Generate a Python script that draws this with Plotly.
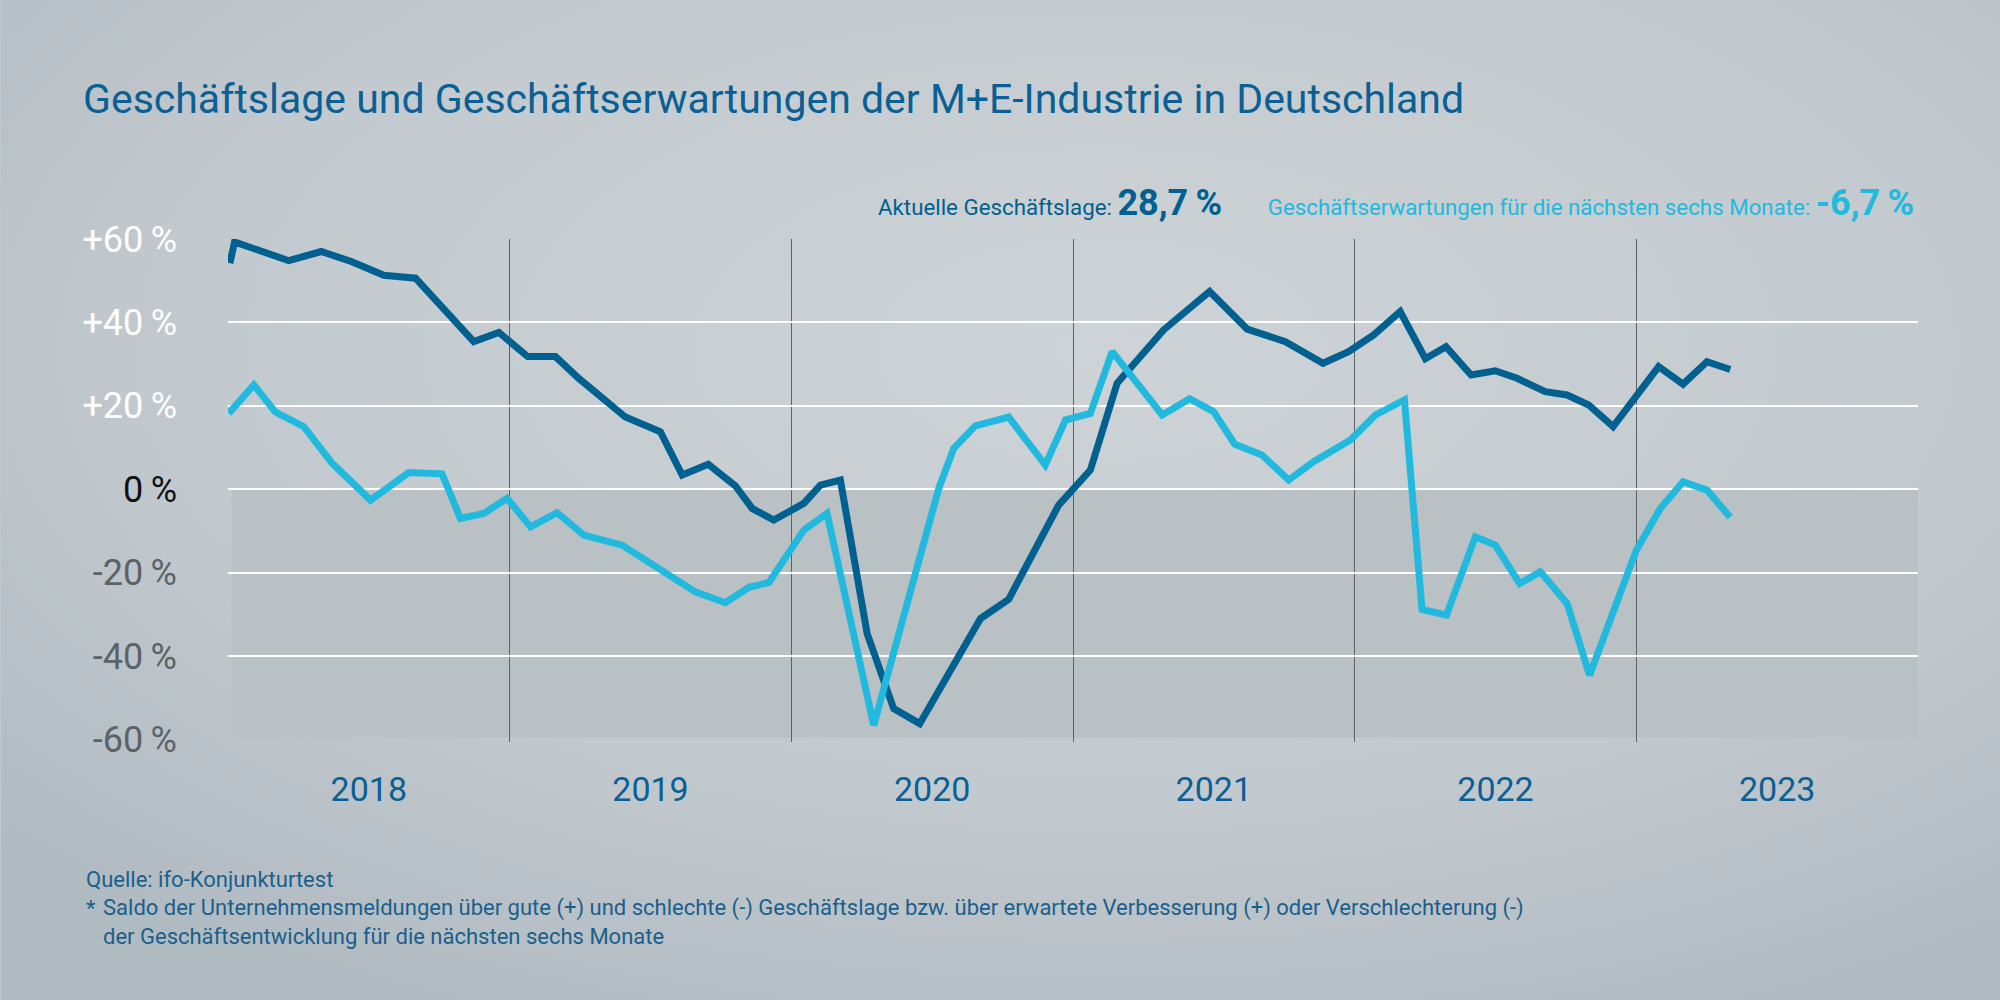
import base64
import plotly.graph_objects as go

# months since Jan 2018 and balance values in %
dark_month = [0.08, 0.28, 2.59, 3.97, 5.25, 6.64, 7.99, 10.47, 11.54, 12.77, 13.95, 14.94,
              16.93, 18.42, 19.35, 20.46, 21.62, 22.33, 23.25, 24.53, 25.24, 26.09, 27.23,
              28.36, 29.47, 32.06, 33.26, 35.39, 36.74, 37.88, 39.86, 41.82, 43.42, 45.05,
              46.65, 47.74, 48.81, 49.94, 51.01, 51.89, 52.96, 53.99, 54.92, 56.12, 57.05,
              57.97, 59.01, 60.95, 61.99, 63.01, 64.00]
dark_val = [54.2, 59.3, 54.8, 57.0, 54.6, 51.3, 50.6, 35.4, 37.6, 31.8, 31.8, 26.6,
            17.3, 13.8, 3.4, 6.0, 0.8, -4.6, -7.4, -3.4, 1.0, 2.2, -34.6,
            -52.6, -56.2, -31.0, -26.4, -3.8, 4.6, 25.4, 38.2, 47.4, 38.4, 35.4,
            30.2, 33.0, 37.0, 42.6, 31.3, 34.2, 27.4, 28.4, 26.6, 23.4, 22.6,
            20.2, 15.0, 29.4, 25.2, 30.6, 28.7]

light_month = [0.03, 1.10, 2.02, 3.23, 4.44, 6.07, 7.70, 9.12, 9.90, 10.90, 11.89, 12.89,
               14.02, 15.16, 16.79, 19.91, 21.19, 22.19, 23.04, 24.53, 25.52, 27.51, 30.28,
               30.92, 31.84, 33.26, 34.82, 35.68, 36.74, 37.67, 39.80, 40.97, 41.99, 42.89,
               44.05, 45.19, 46.25, 47.82, 48.88, 50.12, 50.87, 51.91, 53.14, 53.99, 55.03,
               55.91, 57.05, 58.01, 60.00, 61.02, 61.99, 63.01, 64.00]
light_val = [18.2, 25.0, 18.5, 15.0, 6.2, -2.6, 4.0, 3.7, -7.0, -5.8, -2.2, -9.0,
             -5.6, -11.0, -13.4, -24.6, -27.2, -23.5, -22.4, -9.8, -5.8, -56.6, 0.2,
             9.8, 15.2, 17.3, 5.8, 16.6, 18.2, 33.0, 17.8, 21.7, 18.6, 10.8,
             8.2, 2.2, 6.6, 11.8, 17.8, 21.4, -28.8, -30.2, -11.4, -13.4, -22.6,
             -19.8, -27.4, -44.6, -14.6, -4.6, 1.8, -0.2, -6.7]

years = ["2018", "2019", "2020", "2021", "2022", "2023"]
year_mid = [6, 18, 30, 42, 54, 66]
year_bounds = [12, 24, 36, 48, 60]

y_ticks = [60, 40, 20, 0, -20, -40, -60]
y_labels = ["+60\u2009%", "+40\u2009%", "+20\u2009%", "0\u2009%", "-20\u2009%", "-40\u2009%", "-60\u2009%"]

DARK = "#00608f"
LIGHT = "#22b9df"
FONT = "Roboto"

# plot area in pixels
L, R, T, B = 227.5, 1917.7, 239.3, 742.0
W, H = 2000, 1000


def px(x):
    return (x - L) / (R - L)


def py(y):
    return (B - y) / (B - T)


def tick_color(v):
    if v > 0:
        return "#ffffff"
    if v == 0:
        return "#111111"
    return "#5b6367"


ticktext = ['<span style="color:%s">%s</span>' % (tick_color(v), t) for v, t in zip(y_ticks, y_labels)]

# soft background gradient
svg = ('<svg xmlns="http://www.w3.org/2000/svg" width="2000" height="1000">'
       '<defs><radialGradient id="g" cx="0.55" cy="0.35" r="0.75">'
       '<stop offset="0" stop-color="#cdd3d6"/><stop offset="0.6" stop-color="#c3cacf"/>'
       '<stop offset="1" stop-color="#b0bac1"/></radialGradient></defs>'
       '<rect width="2000" height="1000" fill="url(#g)"/></svg>')
bg_src = "data:image/svg+xml;base64," + base64.b64encode(svg.encode()).decode()

fig = go.Figure()

fig.add_trace(go.Scatter(x=dark_month, y=dark_val, mode="lines",
                         line=dict(color=DARK, width=7), name="Aktuelle Geschäftslage"))
fig.add_trace(go.Scatter(x=light_month, y=light_val, mode="lines",
                         line=dict(color=LIGHT, width=7), name="Geschäftserwartungen"))

# darker area below zero
fig.add_shape(type="rect", xref="x", yref="y", x0=0.16, x1=72, y0=-59.5, y1=0,
              fillcolor="#b9c1c5", line=dict(width=0), layer="below")

fig.add_layout_image(dict(source=bg_src, xref="paper", yref="paper",
                          x=px(0), y=py(0), sizex=W / (R - L), sizey=H / (B - T),
                          xanchor="left", yanchor="top", sizing="stretch", layer="below"))

# header with current values
header = ('<span style="color:%s">Aktuelle Geschäftslage: <b><span style="font-size:36px">28,7\u2009%%</span></b></span>'
          '\u2003\u2003<span style="color:%s">Geschäftserwartungen für die nächsten sechs Monate: '
          '<b><span style="font-size:36px">-6,7\u2009%%</span></b></span>') % (DARK, LIGHT)
fig.add_annotation(text=header, xref="paper", yref="paper", x=px(1916), y=py(203),
                   xanchor="right", yanchor="middle", showarrow=False,
                   font=dict(family=FONT, size=22.3, color=DARK))

# footnotes
foot_color = "#1b5f8c"
foot_size = 22
fig.add_annotation(text="Quelle: ifo-Konjunkturtest", xref="paper", yref="paper",
                   x=px(83), y=py(879), xanchor="left", yanchor="middle", showarrow=False,
                   font=dict(family=FONT, size=foot_size, color=foot_color))
fig.add_annotation(text="*", xref="paper", yref="paper",
                   x=px(83), y=py(908), xanchor="left", yanchor="middle", showarrow=False,
                   font=dict(family=FONT, size=foot_size, color=foot_color))
fig.add_annotation(text="Saldo der Unternehmensmeldungen über gute (+) und schlechte (-) Geschäftslage bzw. "
                        "über erwartete Verbesserung (+) oder Verschlechterung (-)",
                   xref="paper", yref="paper", x=px(100), y=py(908), xanchor="left", yanchor="middle",
                   showarrow=False, font=dict(family=FONT, size=foot_size, color=foot_color))
fig.add_annotation(text="der Geschäftsentwicklung für die nächsten sechs Monate",
                   xref="paper", yref="paper", x=px(100), y=py(936), xanchor="left", yanchor="middle",
                   showarrow=False, font=dict(family=FONT, size=foot_size, color=foot_color))

fig.update_layout(
    width=W, height=H, autosize=False,
    margin=dict(l=L, r=W - R, t=T, b=H - B),
    paper_bgcolor="#c3cacf",
    plot_bgcolor="#e4e4e4",
    showlegend=False,
    title=dict(text="Geschäftslage und Geschäftserwartungen der M+E-Industrie in Deutschland",
               x=83 / W, xanchor="left", y=1 - 99 / H, yanchor="middle",
               font=dict(family=FONT, size=41, color="#0a5f94")),
    xaxis=dict(range=[0, 72], tickvals=year_mid, ticktext=years, showgrid=False,
               zeroline=False, showline=False, ticks="", ticklabelstandoff=24,
               tickfont=dict(family=FONT, size=34, color="#0a5f94"),
               minor=dict(tickvals=year_bounds, showgrid=True, gridcolor="#5d6266", gridwidth=1.3, ticks="")),
    yaxis=dict(range=[-60.6, 60], tickvals=y_ticks, ticktext=ticktext, showgrid=False,
               zeroline=False, showline=False, ticks="", ticklabelstandoff=50,
               tickfont=dict(family=FONT, size=36),
               minor=dict(tickvals=[40, 20, 0, -20, -40], showgrid=True, gridcolor="#ffffff",
                          gridwidth=2.2, ticks="")),
)

# the page body has a default margin; drop it so the figure fills the window
fig.write_html("out.html", config={"displayModeBar": False},
               post_script="document.body.style.margin='0';document.body.style.overflow='hidden';")
